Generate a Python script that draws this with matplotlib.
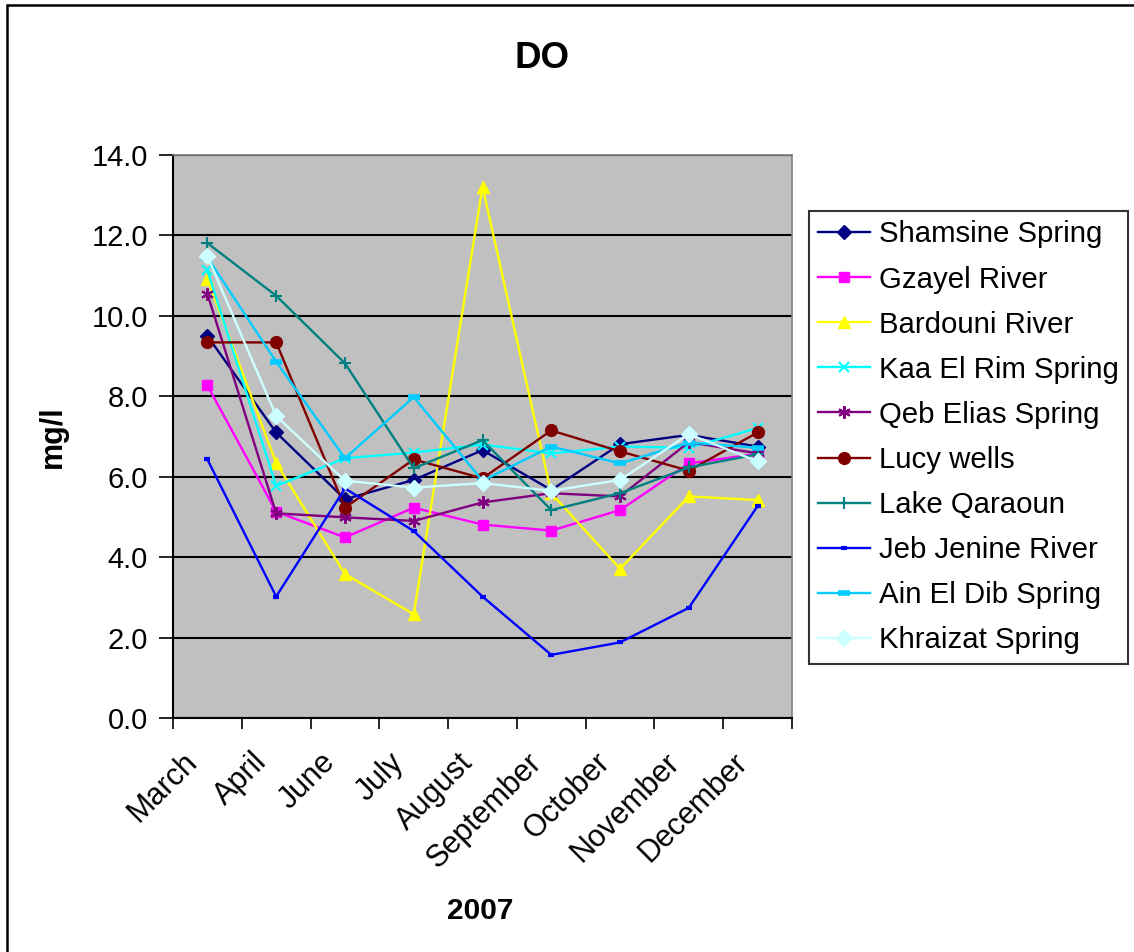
import matplotlib as mpl
mpl.rcParams['font.family'] = ['Liberation Sans', 'DejaVu Sans']

import matplotlib.pyplot as plt
import numpy as np
from matplotlib.patches import Rectangle

months = ["March", "April", "June", "July", "August", "September",
          "October", "November", "December"]

shamsine = [9.50, 7.10, 5.44, 5.92, 6.66, 5.67, 6.81, 7.04, 6.75]
gzayel = [8.27, 5.13, 4.49, 5.23, 4.81, 4.66, 5.17, 6.33, 6.57]
bardouni = [10.92, 6.34, 3.58, 2.58, 13.21, 5.59, 3.71, 5.51, 5.42]
kaa_el_rim = [11.13, 5.77, 6.46, 6.60, 6.80, 6.58, 6.75, 6.72, 7.21]
qeb_elias = [10.55, 5.09, 4.99, 4.90, 5.36, 5.59, 5.51, 6.86, 6.58]
lucy = [9.34, 9.34, 5.23, 6.43, 5.96, 7.15, 6.63, 6.15, 7.10]
qaraoun = [11.81, 10.50, 8.82, 6.21, 6.91, 5.17, 5.59, 6.23, 6.56]
jeb_jenine = [6.43, 3.02, 5.71, 4.65, 3.02, 1.57, 1.88, 2.74, 5.27]
ain_el_dib = [11.45, 8.86, 6.46, 7.98, 5.90, 6.75, 6.33, 6.85, 6.72]
khraizat = [11.48, 7.51, 5.90, 5.73, 5.84, 5.65, 5.92, 7.06, 6.38]

# name, values, color, marker, markersize, mew
series = [
    ("Shamsine Spring", shamsine, "#000080", "D", 7, 1),
    ("Gzayel River", gzayel, "#FF00FF", "s", 7.5, 1),
    ("Bardouni River", bardouni, "#FFFF00", "^", 9, 1),
    ("Kaa El Rim Spring", kaa_el_rim, "#00FFFF", "x", 7, 1.5),
    ("Qeb Elias Spring", qeb_elias, "#800080", (6, 2, 0), 9, 1.5),
    ("Lucy wells", lucy, "#800000", "o", 8.5, 1),
    ("Lake Qaraoun", qaraoun, "#008080", "+", 9, 1.5),
    ("Jeb Jenine River", jeb_jenine, "#0000FF", "_", 5, 3),
    ("Ain El Dib Spring", ain_el_dib, "#00CCFF", "_", 9, 4),
    ("Khraizat Spring", khraizat, "#CCFFFF", "D", 8, 1),
]

fig = plt.figure(figsize=(11.34, 9.52), dpi=100)
ax = fig.add_axes([173/1134, 1-718/952, (792-173)/1134, (718-155)/952])
ax.set_facecolor("#C0C0C0")

x = np.arange(len(months))
for name, vals, col, mk, ms, mew in series:
    ax.plot(x, vals, color=col, marker=mk, markersize=ms, markeredgewidth=mew,
            markerfacecolor=col, markeredgecolor=col, lw=1.7, label=name)

ax.set_xlim(-0.5, len(months)-0.5)
ax.set_ylim(0, 14)
ax.set_yticks(np.arange(0, 14.1, 2))
ax.set_yticklabels(["%.1f" % v for v in np.arange(0, 14.1, 2)])
ax.yaxis.grid(True, color="black", lw=1.5)
ax.set_axisbelow(True)

ax.set_xticks(np.arange(-0.5, len(months), 1))
ax.set_xticklabels([])
# labels sit a bit left of the category centre, like Excel does
ax.set_xticks(x - 0.36, minor=True)
ax.set_xticklabels(months, minor=True, rotation=45, ha="right",
                   rotation_mode="anchor", fontsize=22)
ax.tick_params(axis="x", which="minor", length=0, pad=21)
ax.tick_params(axis="x", which="major", length=8, width=1.2, direction="out")
ax.tick_params(axis="y", length=10, width=1.2, direction="out", labelsize=21, pad=8)

for s in ["left", "bottom"]:
    ax.spines[s].set_color("black")
    ax.spines[s].set_linewidth(1.5)
for s in ["top", "right"]:
    ax.spines[s].set_color("#808080")
    ax.spines[s].set_linewidth(1.2)

fig.text(542/1134, 1-58/952, "DO", fontsize=26.5, fontweight="bold",
         ha="center", va="center")
fig.text(53/1134, 1-437/952, "mg/l", fontsize=22, fontweight="bold",
         rotation=90, ha="center", va="center")
fig.text(480/1134, 1-911/952, "2007", fontsize=21.5, fontweight="bold",
         ha="center", va="center")

leg = fig.legend(loc="upper left", bbox_to_anchor=(809/1134, 1-211/952),
                 fontsize=21.2, frameon=True, fancybox=False, edgecolor="black",
                 handlelength=1.75, handletextpad=0.3, labelspacing=0.58,
                 borderpad=0.32, borderaxespad=0)
leg.get_frame().set_linewidth(1.5)

fig.patches.append(Rectangle((7/1134, -0.1), 2, 1.1-5/952, transform=fig.transFigure,
                             fill=False, edgecolor="black", lw=1.8))

fig.savefig("out.png", dpi=100)
